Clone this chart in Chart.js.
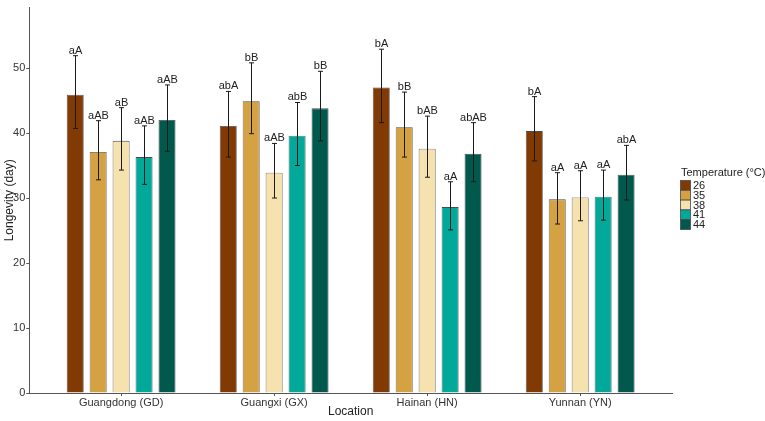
<!DOCTYPE html>
<html>
<head>
<meta charset="utf-8">
<script src="https://cdn.jsdelivr.net/npm/chart.js@4.4.0/dist/chart.umd.min.js"></script>
<style>
  html, body { margin: 0; padding: 0; background: #fff; }
</style>
</head>
<body>
<canvas id="longevityChart" width="765" height="421"></canvas>
<script>
// dados
var locations = ["Guangdong (GD)", "Guangxi (GX)", "Hainan (HN)", "Yunnan (YN)"];
var temperatures = ["26", "35", "38", "41", "44"];
var yTicks = [0, 10, 20, 30, 40, 50];

var mean26 = [45.9, 41.1, 47.0, 40.3];
var mean35 = [37.1, 44.9, 40.9, 29.8];
var mean38 = [38.8, 33.9, 37.6, 30.1];
var mean41 = [36.3, 39.6, 28.6, 30.2];
var mean44 = [42.0, 43.8, 36.8, 33.6];

var upper26 = [51.9, 46.4, 52.9, 45.6];
var upper35 = [41.9, 50.8, 46.3, 33.9];
var upper38 = [43.9, 38.4, 42.6, 34.2];
var upper41 = [41.1, 44.7, 32.5, 34.3];
var upper44 = [47.4, 49.5, 41.6, 38.1];

var lower26 = [40.7, 36.3, 41.6, 35.7];
var lower35 = [32.8, 39.9, 36.3, 26.0];
var lower38 = [34.3, 30.0, 33.2, 26.5];
var lower41 = [32.1, 35.0, 25.1, 26.6];
var lower44 = [37.2, 38.8, 32.5, 29.7];

var letters26 = ["aA", "abA", "bA", "bA"];
var letters35 = ["aAB", "bB", "bB", "aA"];
var letters38 = ["aB", "aAB", "bAB", "aA"];
var letters41 = ["aAB", "abB", "aA", "aA"];
var letters44 = ["aAB", "bB", "abAB", "abA"];

var colors = ["#823A04", "#D5A243", "#F6E2AE", "#02A99B", "#01594D"];

var means = [mean26, mean35, mean38, mean41, mean44];
var uppers = [upper26, upper35, upper38, upper41, upper44];
var lowers = [lower26, lower35, lower38, lower41, lower44];
var letters = [letters26, letters35, letters38, letters41, letters44];

var FONT = "'Liberation Sans', Arial, sans-serif";

var datasets = temperatures.map(function (t, i) {
    return {
        label: t,
        data: means[i].map(function (v, j) { return {x: j + 1, y: v}; }),
        backgroundColor: colors[i],
        borderColor: "#4a4a4a",
        borderWidth: 0.8,
        categoryPercentage: 0.75,
        barPercentage: 0.74
    };
});

// barras de erro + letras
var errorBarPlugin = {
    id: "errorBars",
    afterDatasetsDraw: function (chart) {
        var ctx = chart.ctx;
        var yScale = chart.scales.y;
        ctx.save();
        chart.data.datasets.forEach(function (ds, i) {
            var meta = chart.getDatasetMeta(i);
            meta.data.forEach(function (bar, j) {
                var x = Math.round(bar.x) + 0.5;
                var yU = yScale.getPixelForValue(uppers[i][j]);
                var yL = yScale.getPixelForValue(lowers[i][j]);
                ctx.strokeStyle = "#1a1a1a";
                ctx.lineWidth = 1;
                ctx.beginPath();
                ctx.moveTo(x, yU);
                ctx.lineTo(x, yL);
                ctx.moveTo(x - 2.5, yU);
                ctx.lineTo(x + 2.5, yU);
                ctx.moveTo(x - 2.5, yL);
                ctx.lineTo(x + 2.5, yL);
                ctx.stroke();
                ctx.fillStyle = "#222";
                ctx.font = "11px " + FONT;
                ctx.textAlign = "center";
                ctx.textBaseline = "alphabetic";
                ctx.fillText(letters[i][j], x, yU - 2);
            });
        });
        ctx.restore();
    }
};

// legenda estilo ggplot
var legendPlugin = {
    id: "sideLegend",
    afterDraw: function (chart) {
        var ctx = chart.ctx;
        ctx.save();
        ctx.fillStyle = "#222";
        ctx.font = "11px " + FONT;
        ctx.textAlign = "left";
        ctx.textBaseline = "middle";
        ctx.fillText("Temperature (°C)", 681, 173);
        var keyH = 9.8;
        temperatures.forEach(function (t, i) {
            var y = 180.5 + i * keyH;
            ctx.fillStyle = colors[i];
            ctx.fillRect(680.5, y, 10, keyH);
            ctx.strokeStyle = "#4a4a4a";
            ctx.lineWidth = 0.8;
            ctx.strokeRect(680.5, y, 10, keyH);
            ctx.fillStyle = "#222";
            ctx.fillText(t, 693, y + keyH / 2 + 0.5);
        });
        ctx.restore();
    }
};

var ctx1 = document.getElementById("longevityChart").getContext("2d");
new Chart(ctx1, {
    type: "bar",
    data: {datasets: datasets},
    options: {
        responsive: false,
        animation: false,
        layout: {padding: {left: 0, right: 93, top: 3, bottom: 0}},
        plugins: {
            legend: {display: false},
            tooltip: {enabled: false}
        },
        scales: {
            x: {
                type: "linear",
                min: 0.4,
                max: 4.6,
                offset: false,
                afterBuildTicks: function (scale) {
                    scale.ticks = [1, 2, 3, 4].map(function (v) { return {value: v}; });
                },
                afterFit: function (scale) { scale.height = 28; },
                ticks: {
                    callback: function (v) { return locations[v - 1]; },
                    color: "#333",
                    font: {family: FONT, size: 11},
                    padding: 0,
                    maxRotation: 0
                },
                grid: {offset: false, drawOnChartArea: false, drawTicks: true, tickLength: 3, color: "#555"},
                border: {display: true, color: "#555", width: 1},
                title: {display: true, text: "Location", color: "#222", font: {family: FONT, size: 12}, padding: {top: 0, bottom: 2}}
            },
            y: {
                min: 0,
                max: 59.3,
                afterBuildTicks: function (scale) {
                    scale.ticks = yTicks.map(function (v) { return {value: v}; });
                },
                afterFit: function (scale) { scale.width = 29.3; },
                ticks: {color: "#333", font: {family: FONT, size: 11}, padding: 1},
                grid: {drawOnChartArea: false, drawTicks: true, tickLength: 3, color: "#555"},
                border: {display: true, color: "#555", width: 1},
                title: {display: true, text: "Longevity (day)", color: "#222", font: {family: FONT, size: 12}, padding: {top: 2, bottom: 0}}
            }
        }
    },
    plugins: [errorBarPlugin, legendPlugin]
});
</script>
</body>
</html>
